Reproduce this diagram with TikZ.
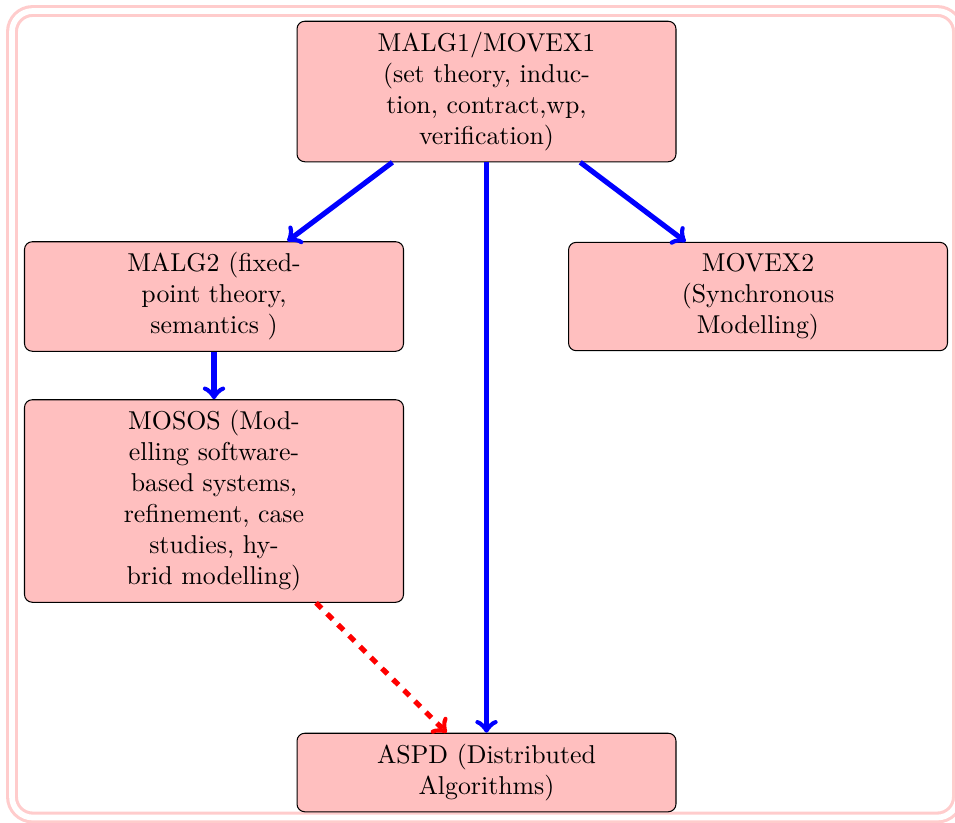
\documentclass[tikz,border=0pt]{standalone}
\begin{document}
\begin{tikzpicture}[x=0.3871pt,y=-0.3871pt,
  box/.style={draw=black, fill=red!25, rounded corners=3pt, text width=3cm, align=center,
    minimum width=146.7pt, inner xsep=3.33pt, inner ysep=4.2pt, font=\normalsize},
  blueline/.style={draw=blue, line width=2pt, ->},
  redline/.style={draw=red, line width=2pt, dashed, ->}]
\useasboundingbox (0,0) rectangle (955,822);
\draw[red!20, double=white, double distance=2.2pt, line width=1.2pt, rounded corners=8pt]
  (12,11) rectangle (958,817.5);
\node[box] (top) at (486.5,91.5) {MALG1/MOVEX1 (set theory, induction, contract,wp, verification)};
\node[box] (malg2) at (214,296.5) {MALG2 (fixed-point theory, semantics )};
\node[box] (movex2) at (758,296.5) {MOVEX2 (Synchronous Modelling)};
\node[box] (mosos) at (214,501) {MOSOS (Modelling software-based systems,\\ refinement, case\\ studies, hy-\\brid modelling)};
\node[box] (aspd) at (486.5,772.5) {ASPD (Distributed Algorithms)};
\draw[blueline] (top) -- (malg2);
\draw[blueline] (top) -- (movex2);
\draw[blueline] (top) -- (aspd);
\draw[blueline] (malg2) -- (mosos);
\draw[redline] (mosos) -- (aspd);
\end{tikzpicture}
\end{document}
